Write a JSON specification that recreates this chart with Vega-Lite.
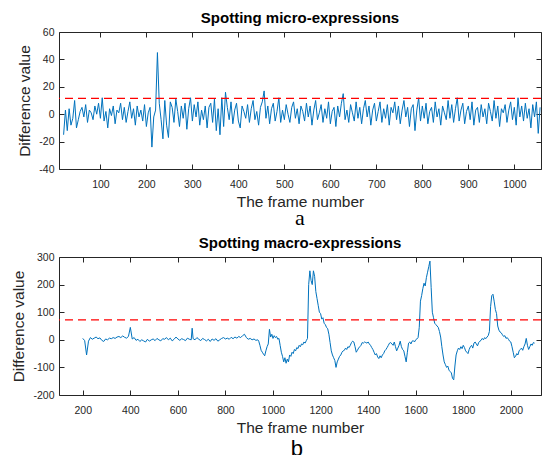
{
"$schema":"https://vega.github.io/schema/vega-lite/v6.json",
"background":"white",
"padding":{"left":11,"top":10,"right":2,"bottom":0},
"spacing":6,
"config":{"font":"Liberation Sans","view":{"stroke":"#262626","strokeWidth":1},
"axis":{"grid":false,"domain":false,"tickColor":"#262626","tickSize":-5,"labelColor":"#262626","labelFontSize":10.5,"titleColor":"#262626","titleFontSize":15.5,"titleFontWeight":"normal","labelPadding":10},
"title":{"fontSize":15,"fontWeight":"bold","color":"#000000","offset":1},
"concat":{"spacing":6}},
"datasets":{
"micro":[
{"f":20,"v":-15},{"f":24,"v":3},{"f":28,"v":-12},{"f":32,"v":4},{"f":36,"v":-8},{"f":40,"v":-3},{"f":44,"v":10},{"f":48,"v":-10},{"f":52,"v":-4},{"f":56,"v":2},
{"f":60,"v":5},{"f":64,"v":-2},{"f":68,"v":7},{"f":72,"v":-6},{"f":76,"v":3},{"f":80,"v":1},{"f":84,"v":-4},{"f":88,"v":6},{"f":92,"v":0},{"f":96,"v":8},
{"f":100,"v":-3},{"f":104,"v":12},{"f":108,"v":-5},{"f":112,"v":2},{"f":116,"v":-10},{"f":120,"v":4},{"f":124,"v":-1},{"f":128,"v":6},{"f":132,"v":-7},{"f":136,"v":3},
{"f":140,"v":1},{"f":144,"v":8},{"f":148,"v":-4},{"f":152,"v":5},{"f":156,"v":-6},{"f":160,"v":2},{"f":164,"v":9},{"f":168,"v":-3},{"f":172,"v":4},{"f":176,"v":-8},
{"f":180,"v":6},{"f":184,"v":-2},{"f":188,"v":3},{"f":192,"v":-5},{"f":196,"v":7},{"f":200,"v":-9},{"f":204,"v":1},{"f":208,"v":5},{"f":212,"v":-24},{"f":216,"v":-2},
{"f":220,"v":3},{"f":224,"v":45},{"f":228,"v":8},{"f":232,"v":-4},{"f":236,"v":-18},{"f":240,"v":10},{"f":244,"v":-8},{"f":248,"v":-17},{"f":252,"v":9},{"f":256,"v":5},
{"f":260,"v":-6},{"f":264,"v":11},{"f":268,"v":2},{"f":272,"v":-9},{"f":276,"v":6},{"f":280,"v":-3},{"f":284,"v":8},{"f":288,"v":-11},{"f":292,"v":4},{"f":296,"v":12},
{"f":300,"v":-5},{"f":304,"v":7},{"f":308,"v":-2},{"f":312,"v":9},{"f":316,"v":-8},{"f":320,"v":3},{"f":324,"v":-4},{"f":328,"v":6},{"f":332,"v":-10},{"f":336,"v":5},
{"f":340,"v":8},{"f":344,"v":-6},{"f":348,"v":11},{"f":352,"v":-12},{"f":356,"v":4},{"f":360,"v":-15},{"f":364,"v":12},{"f":368,"v":-9},{"f":372,"v":16},{"f":376,"v":5},
{"f":380,"v":-4},{"f":384,"v":9},{"f":388,"v":-7},{"f":392,"v":3},{"f":396,"v":8},{"f":400,"v":-5},{"f":404,"v":-10},{"f":408,"v":6},{"f":412,"v":2},{"f":416,"v":-3},
{"f":420,"v":7},{"f":424,"v":-6},{"f":428,"v":4},{"f":432,"v":10},{"f":436,"v":-4},{"f":440,"v":2},{"f":444,"v":-8},{"f":448,"v":5},{"f":452,"v":9},{"f":456,"v":17},
{"f":460,"v":-3},{"f":464,"v":6},{"f":468,"v":-7},{"f":472,"v":4},{"f":476,"v":8},{"f":480,"v":-5},{"f":484,"v":2},{"f":488,"v":12},{"f":492,"v":-6},{"f":496,"v":3},
{"f":500,"v":-4},{"f":504,"v":7},{"f":508,"v":0},{"f":512,"v":-6},{"f":516,"v":5},{"f":520,"v":9},{"f":524,"v":-3},{"f":528,"v":4},{"f":532,"v":-7},{"f":536,"v":6},
{"f":540,"v":2},{"f":544,"v":-5},{"f":548,"v":8},{"f":552,"v":-2},{"f":556,"v":6},{"f":560,"v":-8},{"f":564,"v":3},{"f":568,"v":10},{"f":572,"v":-4},{"f":576,"v":1},
{"f":580,"v":7},{"f":584,"v":-6},{"f":588,"v":4},{"f":592,"v":-3},{"f":596,"v":9},{"f":600,"v":-7},{"f":604,"v":2},{"f":608,"v":5},{"f":612,"v":-9},{"f":616,"v":6},
{"f":620,"v":-2},{"f":624,"v":8},{"f":628,"v":15},{"f":632,"v":-4},{"f":636,"v":3},{"f":640,"v":-6},{"f":644,"v":7},{"f":648,"v":1},{"f":652,"v":-5},{"f":656,"v":9},
{"f":660,"v":-3},{"f":664,"v":5},{"f":668,"v":-7},{"f":672,"v":4},{"f":676,"v":10},{"f":680,"v":-2},{"f":684,"v":6},{"f":688,"v":-8},{"f":692,"v":3},{"f":696,"v":8},
{"f":700,"v":-5},{"f":704,"v":2},{"f":708,"v":9},{"f":712,"v":-6},{"f":716,"v":4},{"f":720,"v":-3},{"f":724,"v":7},{"f":728,"v":-8},{"f":732,"v":5},{"f":736,"v":1},
{"f":740,"v":9},{"f":744,"v":-4},{"f":748,"v":6},{"f":752,"v":-7},{"f":756,"v":3},{"f":760,"v":10},{"f":764,"v":-2},{"f":768,"v":5},{"f":772,"v":-9},{"f":776,"v":4},
{"f":780,"v":7},{"f":784,"v":-12},{"f":788,"v":3},{"f":792,"v":12},{"f":796,"v":-5},{"f":800,"v":6},{"f":804,"v":-3},{"f":808,"v":8},{"f":812,"v":-7},{"f":816,"v":2},
{"f":820,"v":5},{"f":824,"v":-6},{"f":828,"v":9},{"f":832,"v":-2},{"f":836,"v":4},{"f":840,"v":-8},{"f":844,"v":6},{"f":848,"v":1},{"f":852,"v":-4},{"f":856,"v":10},
{"f":860,"v":-3},{"f":864,"v":7},{"f":868,"v":-6},{"f":872,"v":4},{"f":876,"v":12},{"f":880,"v":-5},{"f":884,"v":3},{"f":888,"v":8},{"f":892,"v":-7},{"f":896,"v":2},
{"f":900,"v":6},{"f":904,"v":-4},{"f":908,"v":9},{"f":912,"v":-8},{"f":916,"v":3},{"f":920,"v":5},{"f":924,"v":-6},{"f":928,"v":7},{"f":932,"v":-2},{"f":936,"v":4},
{"f":940,"v":-7},{"f":944,"v":8},{"f":948,"v":2},{"f":952,"v":-5},{"f":956,"v":10},{"f":960,"v":-3},{"f":964,"v":6},{"f":968,"v":-9},{"f":972,"v":4},{"f":976,"v":1},
{"f":980,"v":7},{"f":984,"v":-6},{"f":988,"v":3},{"f":992,"v":9},{"f":996,"v":-4},{"f":1000,"v":5},{"f":1004,"v":-8},{"f":1008,"v":12},{"f":1012,"v":-2},{"f":1016,"v":6},
{"f":1020,"v":-5},{"f":1024,"v":8},{"f":1028,"v":-3},{"f":1032,"v":4},{"f":1036,"v":-10},{"f":1040,"v":7},{"f":1044,"v":-2},{"f":1048,"v":9},{"f":1052,"v":-14},{"f":1056,"v":5}
],
"macro":[
{"f":200,"v":5},{"f":208,"v":-3},{"f":216,"v":-55},{"f":224,"v":-5},{"f":232,"v":8},{"f":240,"v":2},{"f":248,"v":6},{"f":256,"v":10},{"f":264,"v":4},{"f":272,"v":7},
{"f":280,"v":-2},{"f":288,"v":-6},{"f":296,"v":3},{"f":304,"v":0},{"f":312,"v":6},{"f":320,"v":4},{"f":328,"v":8},{"f":336,"v":5},{"f":344,"v":10},{"f":352,"v":12},
{"f":360,"v":8},{"f":368,"v":14},{"f":376,"v":9},{"f":384,"v":6},{"f":392,"v":12},{"f":400,"v":45},{"f":408,"v":3},{"f":416,"v":8},{"f":424,"v":-2},{"f":432,"v":2},
{"f":440,"v":-6},{"f":448,"v":0},{"f":456,"v":-4},{"f":464,"v":-8},{"f":472,"v":2},{"f":480,"v":-5},{"f":488,"v":0},{"f":496,"v":3},{"f":504,"v":-3},{"f":512,"v":5},
{"f":520,"v":0},{"f":528,"v":-4},{"f":536,"v":4},{"f":544,"v":2},{"f":552,"v":8},{"f":560,"v":0},{"f":568,"v":6},{"f":576,"v":-4},{"f":584,"v":2},{"f":592,"v":10},
{"f":600,"v":3},{"f":608,"v":-2},{"f":616,"v":4},{"f":624,"v":1},{"f":632,"v":-3},{"f":640,"v":6},{"f":648,"v":2},{"f":656,"v":0},{"f":660,"v":42},{"f":664,"v":4},
{"f":672,"v":0},{"f":680,"v":8},{"f":688,"v":2},{"f":696,"v":-3},{"f":704,"v":5},{"f":712,"v":1},{"f":720,"v":-4},{"f":728,"v":2},{"f":736,"v":-6},{"f":744,"v":3},
{"f":752,"v":-2},{"f":760,"v":4},{"f":768,"v":-5},{"f":776,"v":0},{"f":784,"v":5},{"f":792,"v":8},{"f":800,"v":3},{"f":808,"v":6},{"f":816,"v":2},{"f":824,"v":9},
{"f":832,"v":4},{"f":840,"v":10},{"f":848,"v":6},{"f":856,"v":12},{"f":864,"v":8},{"f":872,"v":15},{"f":880,"v":20},{"f":888,"v":8},{"f":896,"v":2},{"f":904,"v":5},
{"f":912,"v":0},{"f":920,"v":3},{"f":928,"v":-2},{"f":936,"v":0},
{"f":940,"v":-5},{"f":945,"v":-20},{"f":950,"v":-38},{"f":955,"v":-45},{"f":960,"v":-52},{"f":965,"v":-58},{"f":970,"v":-40},{"f":975,"v":-25},{"f":980,"v":-15},{"f":985,"v":38},
{"f":990,"v":10},{"f":995,"v":20},{"f":1000,"v":5},{"f":1005,"v":15},{"f":1010,"v":8},{"f":1015,"v":12},{"f":1020,"v":2},{"f":1025,"v":5},{"f":1030,"v":-20},{"f":1035,"v":-45},
{"f":1040,"v":-60},{"f":1045,"v":-80},{"f":1050,"v":-65},{"f":1055,"v":-85},{"f":1060,"v":-70},{"f":1065,"v":-80},{"f":1070,"v":-55},{"f":1075,"v":-60},{"f":1080,"v":-45},{"f":1085,"v":-50},
{"f":1090,"v":-35},{"f":1095,"v":-40},{"f":1100,"v":-28},{"f":1105,"v":-32},{"f":1110,"v":-20},{"f":1115,"v":-25},{"f":1120,"v":-15},{"f":1125,"v":-18},{"f":1130,"v":-8},{"f":1135,"v":-12},
{"f":1140,"v":-3},{"f":1145,"v":5},{"f":1150,"v":200},{"f":1155,"v":250},{"f":1160,"v":215},{"f":1165,"v":200},{"f":1170,"v":250},{"f":1175,"v":230},{"f":1180,"v":175},{"f":1185,"v":150},
{"f":1190,"v":125},{"f":1195,"v":100},{"f":1200,"v":95},{"f":1205,"v":75},{"f":1210,"v":80},{"f":1215,"v":60},{"f":1220,"v":55},{"f":1225,"v":45},{"f":1230,"v":40},{"f":1235,"v":20},
{"f":1240,"v":-10},{"f":1245,"v":-40},{"f":1250,"v":-55},{"f":1255,"v":-65},{"f":1260,"v":-75},{"f":1265,"v":-100},{"f":1270,"v":-80},{"f":1275,"v":-70},{"f":1280,"v":-60},{"f":1285,"v":-55},
{"f":1290,"v":-45},{"f":1295,"v":-40},{"f":1300,"v":-38},{"f":1305,"v":-30},{"f":1310,"v":-35},{"f":1315,"v":-25},{"f":1320,"v":-28},{"f":1325,"v":-20},{"f":1330,"v":-10},{"f":1335,"v":-5},
{"f":1340,"v":-8},{"f":1345,"v":-25},{"f":1350,"v":-45},{"f":1355,"v":-38},{"f":1360,"v":-30},{"f":1365,"v":-25},{"f":1370,"v":-20},{"f":1375,"v":-10},{"f":1380,"v":-12},{"f":1385,"v":-8},
{"f":1390,"v":-10},{"f":1395,"v":-12},{"f":1400,"v":-8},{"f":1405,"v":-15},{"f":1410,"v":-20},{"f":1415,"v":-28},{"f":1420,"v":-35},{"f":1425,"v":-45},{"f":1430,"v":-55},{"f":1435,"v":-50},
{"f":1440,"v":-62},{"f":1445,"v":-68},{"f":1450,"v":-58},{"f":1455,"v":-65},{"f":1460,"v":-55},{"f":1465,"v":-50},{"f":1470,"v":-40},{"f":1475,"v":-35},{"f":1480,"v":-28},{"f":1485,"v":-20},
{"f":1490,"v":-12},{"f":1495,"v":-10},{"f":1500,"v":-15},{"f":1505,"v":-20},{"f":1510,"v":-8},{"f":1515,"v":-25},{"f":1520,"v":-40},{"f":1525,"v":-30},{"f":1530,"v":-20},{"f":1535,"v":-5},
{"f":1540,"v":-25},{"f":1545,"v":-35},{"f":1550,"v":-40},{"f":1555,"v":-60},{"f":1560,"v":-80},{"f":1565,"v":-45},{"f":1570,"v":-12},{"f":1575,"v":-8},{"f":1580,"v":-15},{"f":1585,"v":-5},
{"f":1590,"v":-3},{"f":1595,"v":-8},{"f":1600,"v":0},{"f":1605,"v":3},{"f":1610,"v":8},{"f":1615,"v":45},{"f":1620,"v":140},{"f":1625,"v":160},{"f":1630,"v":185},{"f":1635,"v":205},
{"f":1640,"v":195},{"f":1645,"v":225},{"f":1650,"v":245},{"f":1655,"v":265},{"f":1660,"v":285},{"f":1665,"v":190},{"f":1670,"v":100},{"f":1675,"v":80},{"f":1680,"v":60},{"f":1685,"v":55},
{"f":1690,"v":50},{"f":1695,"v":45},{"f":1700,"v":30},{"f":1705,"v":10},{"f":1710,"v":-25},{"f":1715,"v":-55},{"f":1720,"v":-80},{"f":1725,"v":-90},{"f":1730,"v":-100},{"f":1735,"v":-95},
{"f":1740,"v":-110},{"f":1745,"v":-115},{"f":1750,"v":-120},{"f":1755,"v":-140},{"f":1760,"v":-145},{"f":1765,"v":-95},{"f":1770,"v":-55},{"f":1775,"v":-40},{"f":1780,"v":-30},{"f":1785,"v":-35},
{"f":1790,"v":-25},{"f":1795,"v":-32},{"f":1800,"v":-20},{"f":1805,"v":-28},{"f":1810,"v":-40},{"f":1815,"v":-45},{"f":1820,"v":-50},{"f":1825,"v":-35},{"f":1830,"v":-25},{"f":1835,"v":-20},
{"f":1840,"v":-30},{"f":1845,"v":-12},{"f":1850,"v":-8},{"f":1855,"v":-15},{"f":1860,"v":-22},{"f":1865,"v":-10},{"f":1870,"v":-5},{"f":1875,"v":-2},{"f":1880,"v":5},{"f":1885,"v":0},
{"f":1890,"v":8},{"f":1895,"v":4},{"f":1900,"v":10},{"f":1905,"v":15},{"f":1910,"v":30},{"f":1915,"v":120},{"f":1920,"v":160},{"f":1925,"v":165},{"f":1930,"v":140},{"f":1935,"v":110},
{"f":1940,"v":95},{"f":1945,"v":50},{"f":1950,"v":35},{"f":1955,"v":28},{"f":1960,"v":25},{"f":1965,"v":18},{"f":1970,"v":12},{"f":1975,"v":15},{"f":1980,"v":5},{"f":1985,"v":8},
{"f":1990,"v":2},{"f":1995,"v":-5},{"f":2000,"v":-8},{"f":2005,"v":-25},{"f":2010,"v":-45},{"f":2015,"v":-65},{"f":2020,"v":-60},{"f":2025,"v":-50},{"f":2030,"v":-55},{"f":2035,"v":-40},
{"f":2040,"v":-35},{"f":2045,"v":-30},{"f":2050,"v":-38},{"f":2055,"v":-25},{"f":2060,"v":-15},{"f":2065,"v":5},{"f":2070,"v":-20},{"f":2075,"v":-35},{"f":2080,"v":-25},{"f":2085,"v":-15},
{"f":2090,"v":-20},{"f":2095,"v":-10},{"f":2100,"v":-12}
]
},
"vconcat":[
{"title":{"text":"a","orient":"bottom","anchor":"middle","dx":20,"font":"Liberation Serif","fontSize":22,"fontWeight":"normal","offset":-3,"color":"#000000"},
 "vconcat":[{
  "title":{"text":"Spotting micro-expressions","anchor":"middle"},
  "width":482,"height":137,
  "data":{"name":"micro"},
  "layer":[
   {"mark":{"type":"line","color":"#0072BD","strokeWidth":1},
    "encoding":{
     "x":{"field":"f","type":"quantitative","scale":{"domain":[10,1058],"nice":false,"zero":false},"axis":{"values":[100,200,300,400,500,600,700,800,900,1000],"format":"d","labelPadding":15,"title":"The frame number","titlePadding":5}},
     "y":{"field":"v","type":"quantitative","scale":{"domain":[-40,60],"nice":false,"zero":false},"axis":{"values":[-40,-20,0,20,40,60],"title":"Difference value","titlePadding":6,"labelExpr":"datum.value < 0 ? '-' + abs(datum.value) : '' + datum.value"}}}},
   {"mark":{"type":"line","opacity":0},
    "encoding":{
     "x":{"field":"f","type":"quantitative","axis":{"orient":"top","values":[100,200,300,400,500,600,700,800,900,1000],"labels":false,"title":null}},
     "y":{"field":"v","type":"quantitative","axis":{"orient":"right","values":[-40,-20,0,20,40,60],"labels":false,"title":null}}}},
   {"data":{"values":[{"t":11.5}]},
    "mark":{"type":"rule","color":"#FF0000","strokeDash":[8,5],"strokeWidth":1.2},
    "encoding":{"y":{"field":"t","type":"quantitative","axis":null}}}
  ],
  "resolve":{"axis":{"x":"independent","y":"independent"}}
 }]
},
{"title":{"text":"b","orient":"bottom","anchor":"middle","dx":20,"font":"Liberation Sans","fontSize":22,"fontWeight":"normal","offset":2,"color":"#000000"},
 "vconcat":[{
  "title":{"text":"Spotting macro-expressions","anchor":"middle"},
  "width":482,"height":138,
  "data":{"name":"macro"},
  "layer":[
   {"mark":{"type":"line","color":"#0072BD","strokeWidth":1},
    "encoding":{
     "x":{"field":"f","type":"quantitative","scale":{"domain":[100,2127],"nice":false,"zero":false},"axis":{"values":[200,400,600,800,1000,1200,1400,1600,1800,2000],"format":"d","labelPadding":15,"title":"The frame number","titlePadding":5}},
     "y":{"field":"v","type":"quantitative","scale":{"domain":[-200,300],"nice":false,"zero":false},"axis":{"values":[-200,-100,0,100,200,300],"title":"Difference value","titlePadding":6,"labelExpr":"datum.value < 0 ? '-' + abs(datum.value) : '' + datum.value"}}}},
   {"mark":{"type":"line","opacity":0},
    "encoding":{
     "x":{"field":"f","type":"quantitative","axis":{"orient":"top","values":[200,400,600,800,1000,1200,1400,1600,1800,2000],"labels":false,"title":null}},
     "y":{"field":"v","type":"quantitative","axis":{"orient":"right","values":[-200,-100,0,100,200,300],"labels":false,"title":null}}}},
   {"data":{"values":[{"t":72}]},
    "mark":{"type":"rule","color":"#FF0000","strokeDash":[8,5],"strokeWidth":1.2},
    "encoding":{"y":{"field":"t","type":"quantitative","axis":null}}}
  ],
  "resolve":{"axis":{"x":"independent","y":"independent"}}
 }]
}
]
}
